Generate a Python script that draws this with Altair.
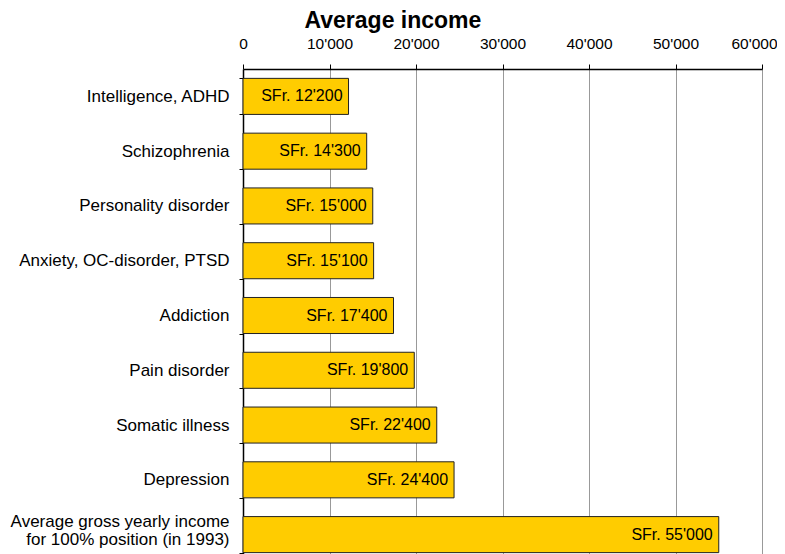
import altair as alt
import pandas as pd

categories = [
    "Intelligence, ADHD",
    "Schizophrenia",
    "Personality disorder",
    "Anxiety, OC-disorder, PTSD",
    "Addiction",
    "Pain disorder",
    "Somatic illness",
    "Depression",
    "Average gross yearly income|for 100% position (in 1993)",
]
values = [12200, 14300, 15000, 15100, 17400, 19800, 22400, 24400, 55000]
labels = ["SFr. 12'200", "SFr. 14'300", "SFr. 15'000", "SFr. 15'100", "SFr. 17'400",
          "SFr. 19'800", "SFr. 22'400", "SFr. 24'400", "SFr. 55'000"]
ticks = [0, 10000, 20000, 30000, 40000, 50000, 60000]

df = pd.DataFrame({"cat": categories, "val": values, "lab": labels})

FONT = "Liberation Sans"
LAST = categories[-1]

x = alt.X(
    "val:Q",
    scale=alt.Scale(domain=[0, 60000], nice=False),
    axis=alt.Axis(
        orient="top",
        values=ticks,
        labelExpr="replace(format(datum.value, ','), ',', \"'\")",
        title="Average income",
        titleFont=FONT,
        titleFontSize=23,
        titleFontWeight="bold",
        titleColor="black",
        titleAnchor="start",
        titleAlign="left",
        titleX=61,
        titleY=-42,
        titleBaseline="alphabetic",
        labelFont=FONT,
        labelFontSize=15.5,
        labelColor="black",
        labelPadding=13,
        labelOffset={"condition": {"test": "datum.value == 60000", "value": -8}, "value": 0},
        tickSize=5,
        tickColor="black",
        domainColor="black",
        domainWidth=1.5,
        grid=True,
        gridColor="#999999",
        gridWidth=1,
        labelFlush=False,
    ),
)

y = alt.Y(
    "cat:N",
    sort=categories,
    scale=alt.Scale(paddingInner=0.342, paddingOuter=0.171),
    axis=alt.Axis(
        title=None,
        labelExpr="split(datum.label, '|')",
        labelFont=FONT,
        labelFontSize=17,
        labelColor="black",
        labelPadding=10,
        labelLimit=400,
        labelOffset={"condition": {"test": "datum.value == '" + LAST + "'", "value": -13}, "value": 0},
        tickSize=4,
        tickBand="extent",
        tickColor="black",
        domainColor="black",
        domainWidth=1.5,
        grid=False,
        labelLineHeight=18,
    ),
)

bars = alt.Chart(df).mark_bar(
    color="#FFCC00", stroke="#222222", strokeWidth=1
).encode(x=x, y=y)

text = alt.Chart(df).mark_text(
    align="right", dx=-6, font=FONT, fontSize=16, color="black"
).encode(x=alt.X("val:Q"), y=alt.Y("cat:N", sort=categories), text="lab:N")

chart = (bars + text).properties(
    width=519,
    height=493,
    autosize="none",
    padding={"left": 235, "top": 61, "right": 15, "bottom": 0},
).configure_view(stroke=None).configure(background="white")

chart.save("out.html", embed_options={"renderer": "svg", "actions": False})
